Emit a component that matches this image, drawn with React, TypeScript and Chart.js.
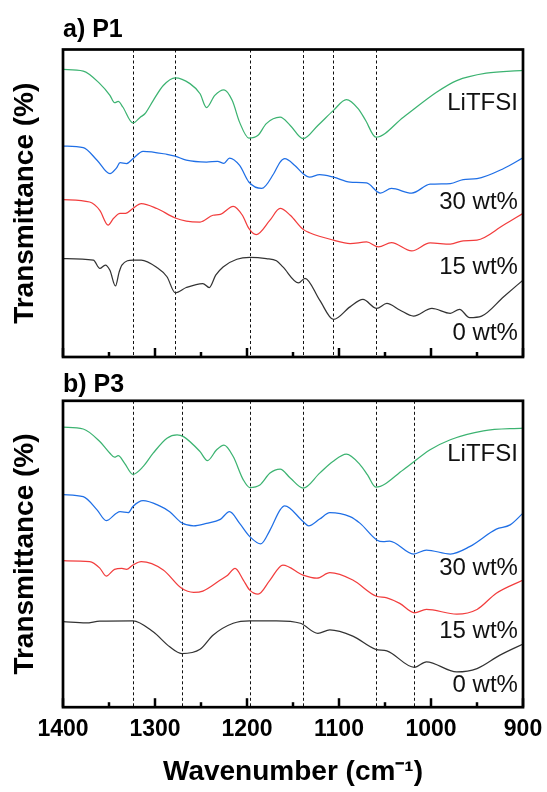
import React, { useEffect, useRef } from "react";
import { Chart, registerables } from "chart.js";

Chart.register(...registerables);

const FONT = "'Liberation Sans', Arial, Helvetica, sans-serif";

// ---------- axis ----------
const xMin = 900;
const xMax = 1400;
const xMajorStep = 100;
const xMinorStep = 50;
const xTitle = "Wavenumber (cm\u207B\u00B9)";
const yTitle = "Transmittance (%)";

const seriesNames = ["LiTFSI", "30 wt%", "15 wt%", "0 wt%"];

// ---------- a) P1 ----------
const p1LiTFSIWn = [1400, 1378, 1360, 1349, 1344, 1340, 1335, 1324, 1316, 1311, 1302, 1291, 1278, 1262, 1251, 1244, 1235, 1225, 1216, 1208, 1198, 1188, 1179, 1164, 1153, 1139, 1123, 1106, 1092, 1079, 1071, 1060, 1030, 994, 972, 940, 900];
const p1LiTFSIT = [93.5, 93.0, 88.9, 85.1, 82.7, 83.1, 81.3, 76.1, 78.0, 79.1, 83.4, 88.3, 90.8, 88.9, 85.6, 81.1, 85.1, 86.9, 83.4, 76.3, 71.2, 72.1, 75.9, 78.0, 75.3, 71.0, 75.3, 80.2, 83.7, 80.7, 76.9, 71.5, 78.0, 86.1, 89.9, 92.3, 93.2];

const p1W30Wn = [1400, 1378, 1363, 1349, 1342, 1338, 1331, 1324, 1313, 1287, 1278, 1266, 1244, 1232, 1225, 1219, 1208, 1198, 1184, 1171, 1164, 1159, 1148, 1139, 1132, 1121, 1106, 1088, 1070, 1055, 1043, 1021, 1001, 979, 965, 950, 921, 900];
const p1W30T = [68.6, 68.1, 64.0, 59.6, 61.4, 63.2, 62.9, 64.5, 66.9, 65.9, 65.3, 64.0, 63.4, 63.6, 63.0, 64.7, 62.3, 56.9, 54.8, 59.6, 63.4, 64.5, 62.3, 59.6, 58.5, 59.3, 58.5, 56.9, 56.6, 53.3, 54.8, 53.3, 56.2, 56.4, 57.7, 58.0, 61.3, 64.8];

const p1W15Wn = [1400, 1371, 1360, 1351, 1345, 1338, 1332, 1324, 1315, 1298, 1278, 1266, 1251, 1237, 1229, 1215, 1205, 1198, 1190, 1175, 1164, 1153, 1139, 1132, 1106, 1088, 1070, 1057, 1043, 1021, 1001, 979, 965, 950, 921, 900];
const p1W15T = [51.2, 50.4, 47.7, 42.9, 45.1, 46.7, 46.7, 48.3, 49.9, 48.3, 45.2, 44.2, 43.9, 46.1, 46.4, 49.0, 46.1, 41.8, 39.8, 44.5, 48.3, 46.1, 41.5, 40.4, 38.0, 36.9, 37.4, 35.8, 37.2, 34.5, 37.1, 36.7, 37.8, 38.0, 42.9, 46.7];

const p1W0Wn = [1400, 1367, 1360, 1354, 1349, 1343, 1339, 1336, 1324, 1315, 1298, 1287, 1278, 1266, 1248, 1241, 1234, 1226, 1211, 1197, 1179, 1168, 1161, 1144, 1137, 1121, 1106, 1088, 1074, 1059, 1048, 1034, 1019, 999, 979, 969, 958, 945, 921, 900];
const p1W0T = [32.0, 31.5, 28.8, 29.9, 28.2, 23.1, 27.6, 29.9, 31.5, 31.5, 29.1, 26.1, 20.9, 22.6, 23.9, 22.6, 26.6, 29.3, 31.8, 32.4, 32.0, 31.3, 29.3, 24.1, 25.6, 18.5, 12.2, 16.3, 18.7, 15.8, 17.4, 15.3, 13.3, 15.8, 14.2, 15.5, 12.8, 13.3, 19.6, 25.0];

const p1PeakLines = [1324, 1278, 1197, 1139, 1106, 1060];
const p1LabelLevels = [82.4, 50.3, 29.2, 7.8];

// ---------- b) P3 ----------
const p3LiTFSIWn = [1400, 1378, 1360, 1349, 1344, 1340, 1333, 1324, 1313, 1302, 1287, 1276, 1269, 1251, 1243, 1233, 1225, 1215, 1204, 1197, 1186, 1175, 1164, 1153, 1139, 1121, 1107, 1092, 1077, 1069, 1060, 1030, 1001, 979, 943, 900];
const p3LiTFSIT = [91.4, 90.8, 86.7, 82.9, 81.6, 82.1, 79.6, 76.0, 78.5, 82.9, 87.8, 88.9, 88.3, 83.4, 80.5, 84.0, 85.5, 81.8, 74.2, 71.7, 72.5, 76.4, 77.7, 74.8, 71.5, 76.4, 80.1, 82.6, 79.1, 75.8, 71.8, 77.5, 84.0, 87.3, 90.2, 91.1];

const p3W30Wn = [1400, 1378, 1363, 1353, 1342, 1338, 1329, 1324, 1313, 1295, 1284, 1271, 1258, 1244, 1229, 1219, 1208, 1197, 1185, 1175, 1164, 1159, 1139, 1133, 1121, 1110, 1088, 1077, 1059, 1052, 1045, 1019, 1005, 979, 958, 929, 914, 900];
const p3W30T = [69.4, 68.7, 64.4, 60.9, 63.3, 63.8, 63.5, 65.5, 67.4, 65.7, 63.8, 60.2, 59.2, 60.0, 61.3, 63.8, 60.0, 55.7, 53.3, 57.8, 64.4, 65.7, 60.6, 59.2, 61.4, 63.5, 62.2, 60.0, 54.6, 54.0, 54.2, 50.0, 51.3, 50.0, 52.4, 58.1, 59.5, 63.3];

const p3W15Wn = [1400, 1371, 1360, 1353, 1344, 1336, 1331, 1324, 1315, 1291, 1271, 1258, 1248, 1229, 1221, 1213, 1204, 1197, 1188, 1175, 1161, 1139, 1124, 1110, 1085, 1060, 1048, 1034, 1018, 1005, 972, 950, 929, 900];
const p3W15T = [47.8, 47.5, 45.4, 42.8, 45.0, 45.3, 45.0, 46.4, 47.5, 44.8, 38.8, 37.5, 37.9, 41.5, 43.1, 45.3, 41.5, 38.2, 36.9, 41.5, 46.4, 43.1, 42.1, 43.9, 41.5, 36.3, 35.7, 33.9, 30.8, 31.9, 30.4, 31.9, 37.2, 41.5];

const p3W0Wn = [1400, 1375, 1360, 1324, 1302, 1284, 1271, 1251, 1237, 1215, 1197, 1168, 1142, 1123, 1110, 1085, 1060, 1048, 1018, 1005, 972, 950, 925, 900];
const p3W0T = [27.9, 27.5, 28.1, 28.2, 24.6, 19.7, 17.5, 18.9, 23.5, 27.4, 28.2, 28.2, 27.4, 24.1, 25.2, 23.2, 18.9, 18.4, 13.0, 14.8, 11.5, 12.6, 17.0, 20.6];

const p3PeakLines = [1324, 1271, 1197, 1139, 1060, 1019];
const p3LabelLevels = [82.4, 45.3, 24.6, 7.2];

// ---------- styles ----------
const seriesColors = ["#3cb371", "#1f6fe6", "#f23d3d", "#333333"];
const labelAnchorWn = 905.5;

function toPoints(wn: number[], t: number[]) {
  return wn.map((x, i) => ({ x, y: t[i] }));
}

const peakLinesPlugin = {
  id: "peakLines",
  beforeDatasetsDraw(chart: any, _args: any, opts: any) {
    const { ctx, chartArea } = chart;
    const xs = chart.scales.x;
    ctx.save();
    ctx.strokeStyle = "#111";
    ctx.lineWidth = 1;
    ctx.setLineDash([3, 2.5]);
    for (const wn of opts.lines as number[]) {
      const px = Math.round(xs.getPixelForValue(wn)) + 0.5;
      ctx.beginPath();
      ctx.moveTo(px, chartArea.top);
      ctx.lineTo(px, chartArea.bottom);
      ctx.stroke();
    }
    ctx.restore();
  },
};

const frameTicksPlugin = {
  id: "frameTicks",
  afterDatasetsDraw(chart: any) {
    const { ctx, chartArea: a } = chart;
    const xs = chart.scales.x;
    ctx.save();
    ctx.strokeStyle = "#000";
    ctx.setLineDash([]);
    ctx.lineWidth = 2.5;
    for (let v = xMin; v <= xMax; v += xMinorStep) {
      const px = xs.getPixelForValue(v);
      const len = v % xMajorStep === 0 ? 9 : 5;
      ctx.beginPath();
      ctx.moveTo(px, a.bottom);
      ctx.lineTo(px, a.bottom - len);
      ctx.stroke();
    }
    ctx.lineWidth = 2.7;
    ctx.strokeRect(a.left, a.top, a.right - a.left, a.bottom - a.top);
    ctx.restore();
  },
};

const seriesLabelsPlugin = {
  id: "seriesLabels",
  afterDatasetsDraw(chart: any, _args: any, opts: any) {
    const { ctx } = chart;
    const xs = chart.scales.x;
    const ys = chart.scales.y;
    ctx.save();
    ctx.font = `24px ${FONT}`;
    ctx.fillStyle = "#111";
    ctx.textAlign = "right";
    ctx.textBaseline = "middle";
    (opts.levels as number[]).forEach((lv, i) => {
      ctx.fillText(seriesNames[i], xs.getPixelForValue(opts.anchor), ys.getPixelForValue(lv));
    });
    ctx.restore();
  },
};

type PanelSpec = {
  title: string;
  series: { wn: number[]; t: number[] }[];
  peaks: number[];
  levels: number[];
  showX: boolean;
  xAxisHeight: number;
  titlePad: { top: number; bottom: number };
};

function makeConfig(p: PanelSpec): any {
  return {
    type: "line",
    data: {
      datasets: p.series.map((s, i) => ({
        label: seriesNames[i],
        data: toPoints(s.wn, s.t),
        borderColor: seriesColors[i],
        backgroundColor: seriesColors[i],
        borderWidth: 1.25,
        pointRadius: 0,
        fill: false,
        cubicInterpolationMode: "monotone",
      })),
    },
    options: {
      responsive: false,
      animation: false,
      events: [],
      layout: { padding: { left: 0, right: 24, top: 0, bottom: 0 } },
      scales: {
        x: {
          type: "linear",
          min: xMin,
          max: xMax,
          reverse: true,
          afterFit: (s: any) => {
            s.height = p.xAxisHeight;
            s.paddingLeft = 0;
            s.paddingRight = 0;
          },
          grid: { display: false, drawTicks: false },
          border: { display: false },
          ticks: {
            display: p.showX,
            stepSize: xMajorStep,
            padding: 9,
            maxRotation: 0,
            autoSkip: false,
            color: "#000",
            font: { family: FONT, size: 23, weight: "bold" },
            callback: (v: any) => String(v),
          },
          title: {
            display: p.showX,
            text: xTitle,
            color: "#000",
            font: { family: FONT, size: 28, weight: "bold" },
            padding: { top: 0, bottom: 2.7 },
          },
        },
        y: {
          min: 0,
          max: 100,
          afterFit: (s: any) => {
            s.width = 63;
          },
          grid: { display: false, drawTicks: false },
          border: { display: false },
          ticks: { display: false },
          title: {
            display: true,
            text: yTitle,
            color: "#000",
            font: { family: FONT, size: 28, weight: "bold" },
            padding: { top: 8.7, bottom: 0 },
          },
        },
      },
      plugins: {
        legend: { display: false },
        tooltip: { enabled: false },
        title: {
          display: true,
          text: p.title,
          align: "start",
          fullSize: false,
          color: "#000",
          font: { family: FONT, size: 25, weight: "bold", lineHeight: 1.2 },
          padding: p.titlePad,
        },
        peakLines: { lines: p.peaks },
        seriesLabels: { levels: p.levels, anchor: labelAnchorWn },
      },
    },
    plugins: [peakLinesPlugin, frameTicksPlugin, seriesLabelsPlugin],
  };
}

const panelP1: PanelSpec = {
  title: "a) P1",
  series: [
    { wn: p1LiTFSIWn, t: p1LiTFSIT },
    { wn: p1W30Wn, t: p1W30T },
    { wn: p1W15Wn, t: p1W15T },
    { wn: p1W0Wn, t: p1W0T },
  ],
  peaks: p1PeakLines,
  levels: p1LabelLevels,
  showX: false,
  xAxisHeight: 13,
  titlePad: { top: 15, bottom: 4.5 },
};

const panelP3: PanelSpec = {
  title: "b) P3",
  series: [
    { wn: p3LiTFSIWn, t: p3LiTFSIT },
    { wn: p3W30Wn, t: p3W30T },
    { wn: p3W15Wn, t: p3W15T },
    { wn: p3W0Wn, t: p3W0T },
  ],
  peaks: p3PeakLines,
  levels: p3LabelLevels,
  showX: true,
  xAxisHeight: 84.8,
  titlePad: { top: 0, bottom: 0.8 },
};

function Panel({ spec, width, height }: { spec: PanelSpec; width: number; height: number }) {
  const ref = useRef<HTMLCanvasElement>(null);
  useEffect(() => {
    const chart = new Chart(ref.current as HTMLCanvasElement, makeConfig(spec));
    return () => chart.destroy();
  }, [spec]);
  return <canvas ref={ref} width={width} height={height} style={{ display: "block", width, height }} />;
}

export default function App() {
  return (
    <div style={{ position: "absolute", left: 0, top: 0, width: 547, height: 792, background: "#fff" }}>
      <Panel spec={panelP1} width={547} height={370} />
      <Panel spec={panelP3} width={547} height={422} />
    </div>
  );
}
